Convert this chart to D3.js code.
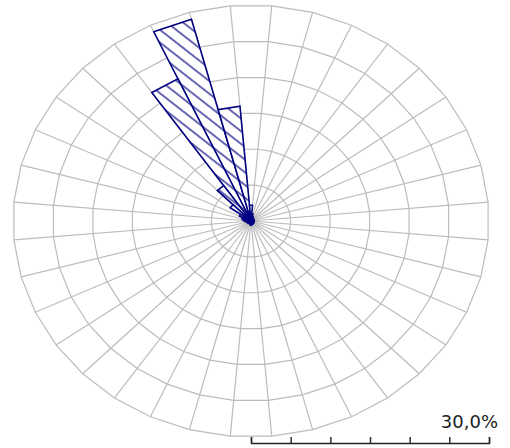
<!DOCTYPE html>
<html>
<head>
<meta charset="utf-8">
<script src="https://cdn.jsdelivr.net/npm/d3@7"></script>
<style>
  body { margin: 0; background: #fff; }
</style>
</head>
<body>
<svg id="rose" width="510" height="448"></svg>
<script>
// wind directions (bin centres, degrees clockwise from north) and frequency in %
var DIRECTIONS = d3.range(0, 360, 10);
var FREQ = [2.2, 1.0, 0.6, 0.5, 0.4, 0.4, 0.4, 0.4, 0.4,
            0.4, 0.4, 0.4, 0.4, 0.4, 0.4, 0.4, 0.5, 0.5,
            0.6, 0.5, 0.4, 0.4, 0.4, 0.4, 0.5, 0.5, 0.6,
            0.8, 1.0, 1.2, 1.6, 3.2, 6.0, 21.8, 29.0, 16.0];
var RINGS = [5, 10, 15, 20, 25, 30];
var SCALE_TICKS = [0, 5, 10, 15, 20, 25, 30];
var SCALE_LABEL = "30,0%";

var svg = d3.select("#rose");
var cx = 251, cy = 221;
var RX = 238, RY = 216;
var BIN = 10;

var rx = d3.scaleLinear().domain([0, 30]).range([0, RX]);
var ry = d3.scaleLinear().domain([0, 30]).range([0, RY]);
var toRad = function(a) { return a * Math.PI / 180; };

var pt = function(angle, v) {
  return [cx + rx(v) * Math.sin(toRad(angle)), cy - ry(v) * Math.cos(toRad(angle))];
};

// hatch
var defs = svg.append("defs");
var pat = defs.append("pattern")
    .attr("id", "hatch")
    .attr("patternUnits", "userSpaceOnUse")
    .attr("width", 10).attr("height", 10)
    .attr("patternTransform", "rotate(38)");
pat.append("rect").attr("width", 10).attr("height", 10).attr("fill", "#fff");
pat.append("line")
    .attr("x1", 0).attr("y1", 5).attr("x2", 10).attr("y2", 5)
    .attr("stroke", "#000080").attr("stroke-width", 1.2);

// grid
var spokeAngles = DIRECTIONS.map(function(d) { return d + BIN / 2; });
var grid = svg.append("g").attr("class", "grid")
    .attr("fill", "none").attr("stroke", "#bcbcbc").attr("stroke-width", 1.2);

grid.selectAll("line")
    .data(spokeAngles)
    .enter().append("line")
    .attr("x1", cx).attr("y1", cy)
    .attr("x2", function(a) { return pt(a, 30)[0]; })
    .attr("y2", function(a) { return pt(a, 30)[1]; });

grid.selectAll("polygon")
    .data(RINGS)
    .enter().append("polygon")
    .attr("points", function(v) {
      return spokeAngles.map(function(a) { return pt(a, v).join(","); }).join(" ");
    });

// bars
var bars = DIRECTIONS.map(function(d, i) { return { dir: d, v: FREQ[i] }; })
    .sort(function(a, b) { return b.v - a.v; });

svg.append("g").attr("class", "bars")
    .selectAll("polygon")
    .data(bars)
    .enter().append("polygon")
    .attr("points", function(d) {
      var p = [[cx, cy], pt(d.dir - BIN / 2, d.v), pt(d.dir + BIN / 2, d.v)];
      return p.map(function(q) { return q.join(","); }).join(" ");
    })
    .attr("fill", "url(#hatch)")
    .attr("stroke", "#000080")
    .attr("stroke-width", 1.6)
    .attr("stroke-linejoin", "miter");

// scale bar
var scaleX = d3.scaleLinear().domain([0, 30]).range([cx, cx + RX]);
var axis = svg.append("g")
    .attr("transform", "translate(0,443)")
    .call(d3.axisTop(scaleX).tickValues(SCALE_TICKS).tickSize(6).tickSizeOuter(6).tickFormat(""));
axis.selectAll("path, line").attr("stroke", "#222").attr("stroke-width", 1.4);

svg.append("text")
    .attr("x", 498).attr("y", 428)
    .attr("text-anchor", "end")
    .attr("font-family", "DejaVu Sans, sans-serif")
    .attr("font-size", 18)
    .attr("fill", "#222")
    .text(SCALE_LABEL);
</script>
</body>
</html>
